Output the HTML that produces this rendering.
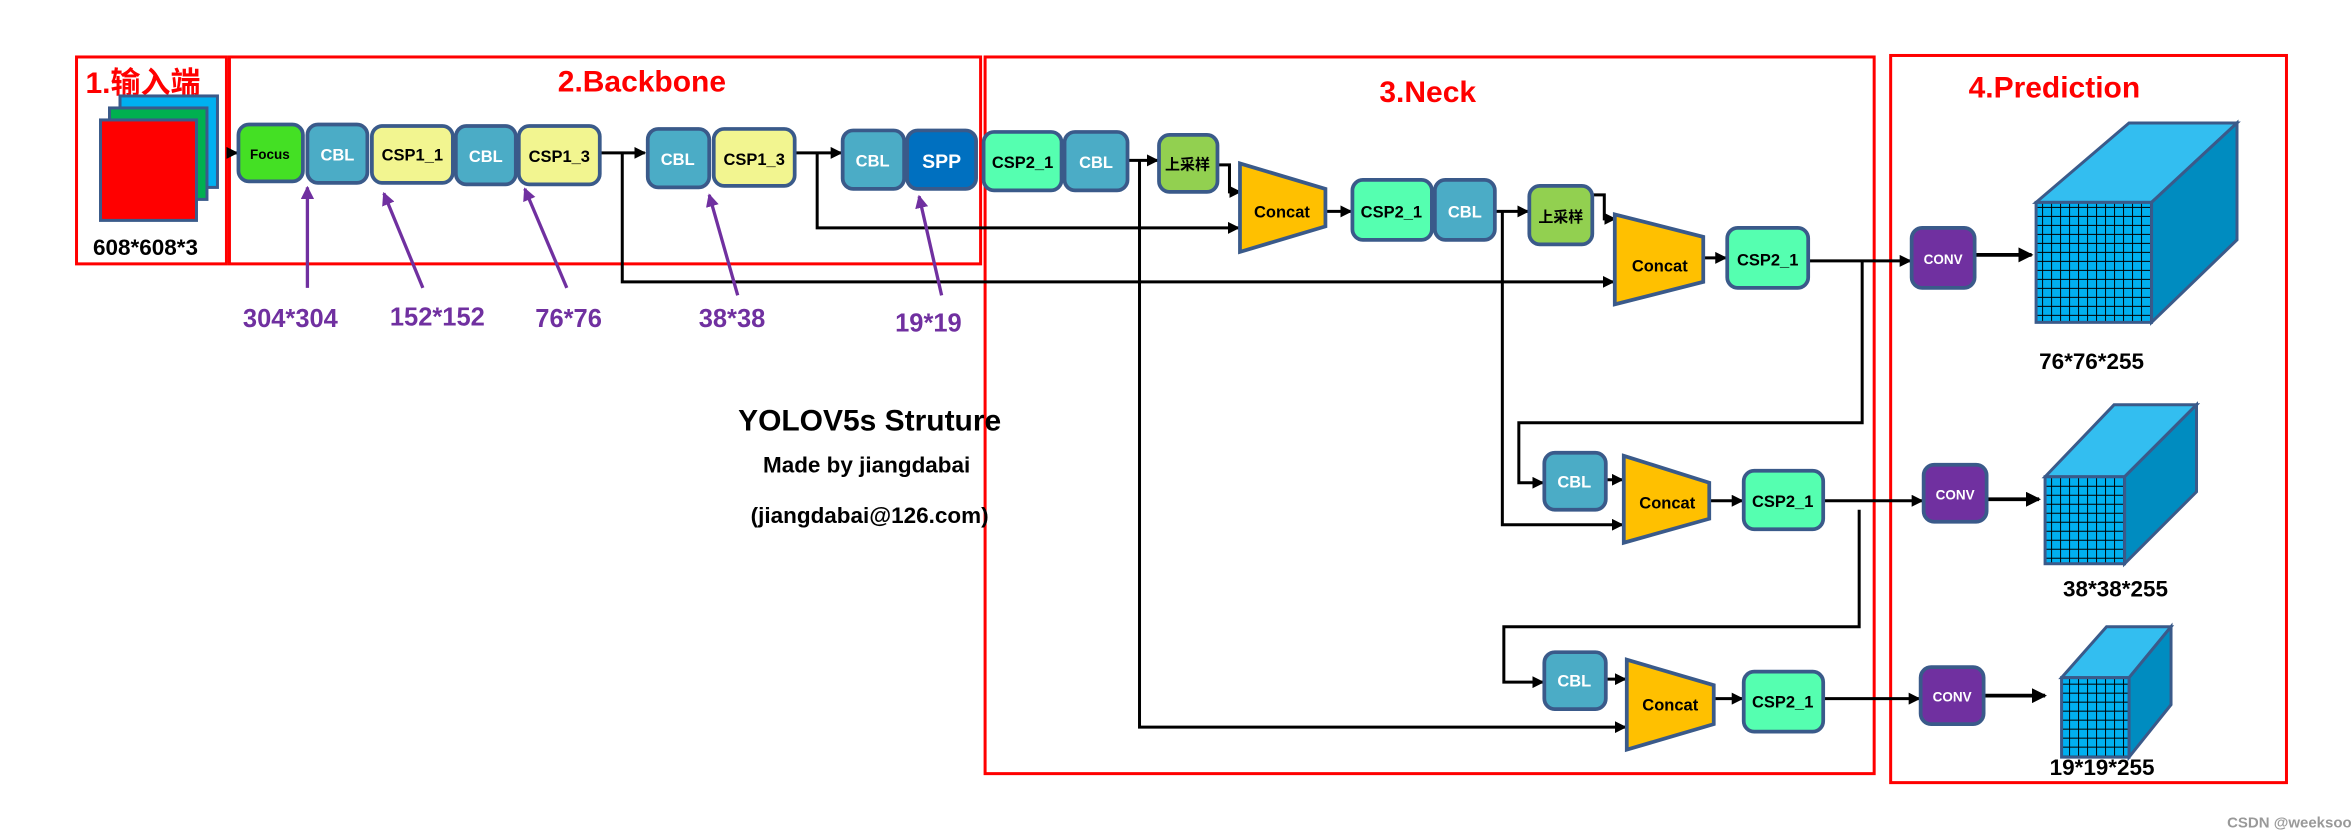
<!DOCTYPE html>
<html><head><meta charset="utf-8"><style>
html,body{margin:0;padding:0;background:#fff;width:2351px;height:836px;overflow:hidden}
svg{display:block}
text{font-family:"Liberation Sans","Noto Sans CJK SC",sans-serif;font-weight:bold}
</style></head><body>
<svg width="2351" height="836" viewBox="0 0 1568 557.6" xmlns="http://www.w3.org/2000/svg">
<defs>
<marker id="a" markerWidth="4" markerHeight="4" refX="3.5" refY="2" orient="auto" markerUnits="strokeWidth"><path d="M0,0 L4,2 L0,4 z" fill="#000"/></marker>
<marker id="p" markerWidth="4" markerHeight="4" refX="3.5" refY="2" orient="auto" markerUnits="strokeWidth"><path d="M0,0 L4,2 L0,4 z" fill="#7030a0"/></marker>
<pattern id="g" width="6" height="6" patternUnits="userSpaceOnUse"><rect width="6" height="6" fill="#00b0f0"/><path d="M0,0 H6 M0,0 V6" stroke="#000" stroke-width="1.3"/></pattern>
</defs>
<!-- section frames -->
<g fill="none" stroke="#f00" stroke-width="2">
<rect x="51" y="38" width="100" height="138"/>
<rect x="153" y="38" width="501" height="138"/>
<rect x="657" y="38" width="593" height="478"/>
<rect x="1261" y="37" width="264" height="485"/>
</g>
<g fill="#f00" font-size="20">
<text x="57" y="62">1.输入端</text>
<text x="372" y="61">2.Backbone</text>
<text x="920" y="68">3.Neck</text>
<text x="1313" y="65">4.Prediction</text>
</g>
<!-- input -->
<g stroke="#3a5a8a" stroke-width="2">
<rect x="80" y="64" width="65" height="61" fill="#00b0f0"/>
<rect x="73" y="72" width="65" height="61" fill="#00b050"/>
<rect x="67" y="80" width="64" height="67" fill="#f00"/>
</g>
<text x="62" y="170" font-size="15">608*608*3</text>
<!-- connectors -->
<g stroke="#000" stroke-width="2" fill="none">
<line x1="151" y1="102" x2="158" y2="102" marker-end="url(#a)"/>
<line x1="400" y1="102" x2="430" y2="102" marker-end="url(#a)"/>
<line x1="530" y1="102" x2="561" y2="102" marker-end="url(#a)"/>
<polyline points="415,102 415,188 1076,188" marker-end="url(#a)"/>
<polyline points="545,102 545,152 826,152" marker-end="url(#a)"/>
<line x1="752" y1="107" x2="772" y2="107" marker-end="url(#a)"/>
<polyline points="760,107 760,485 1084,485" marker-end="url(#a)"/>
<polyline points="812,110 820,110 820,128 827,128" marker-end="url(#a)"/>
<line x1="884" y1="141" x2="901" y2="141" marker-end="url(#a)"/>
<line x1="997" y1="141" x2="1019" y2="141" marker-end="url(#a)"/>
<polyline points="1002,141 1002,350 1082,350" marker-end="url(#a)"/>
<polyline points="1062,130 1070,130 1070,146 1077,146" marker-end="url(#a)"/>
<line x1="1136" y1="172" x2="1151" y2="172" marker-end="url(#a)"/>
<line x1="1206" y1="174" x2="1274" y2="174" marker-end="url(#a)"/>
<polyline points="1242,174 1242,282 1013,282 1013,322 1029,322" marker-end="url(#a)"/>
<line x1="1071" y1="320" x2="1082" y2="320" marker-end="url(#a)"/>
<line x1="1140" y1="334" x2="1162" y2="334" marker-end="url(#a)"/>
<line x1="1216" y1="334" x2="1282" y2="334" marker-end="url(#a)"/>
<polyline points="1240,340 1240,418 1003,418 1003,455 1029,455" marker-end="url(#a)"/>
<line x1="1071" y1="453" x2="1084" y2="453" marker-end="url(#a)"/>
<line x1="1143" y1="466" x2="1162" y2="466" marker-end="url(#a)"/>
<line x1="1216" y1="466" x2="1280" y2="466" marker-end="url(#a)"/>
<line x1="1317" y1="170" x2="1355" y2="170" marker-end="url(#a)" stroke-width="2.5"/>
<line x1="1325" y1="333" x2="1360" y2="333" marker-end="url(#a)" stroke-width="2.5"/>
<line x1="1323" y1="464" x2="1364" y2="464" marker-end="url(#a)" stroke-width="2.5"/>
</g>
<!-- purple arrows -->
<g stroke="#7030a0" stroke-width="2.2">
<line x1="205" y1="192" x2="205" y2="125" marker-end="url(#p)"/>
<line x1="282" y1="192" x2="256" y2="129" marker-end="url(#p)"/>
<line x1="378" y1="192" x2="350" y2="126" marker-end="url(#p)"/>
<line x1="492" y1="197" x2="473" y2="130" marker-end="url(#p)"/>
<line x1="628" y1="197" x2="613" y2="131" marker-end="url(#p)"/>
</g>
<g fill="#7030a0" font-size="17">
<text x="162" y="218">304*304</text>
<text x="260" y="217">152*152</text>
<text x="357" y="218">76*76</text>
<text x="466" y="218">38*38</text>
<text x="597" y="221">19*19</text>
</g>
<!-- blocks -->
<g stroke="#3a5a8a" stroke-width="2.5">
<rect x="159" y="83" width="43" height="38" rx="7" fill="#44e024"/>
<rect x="205" y="83" width="40" height="39" rx="7" fill="#4bacc6"/>
<rect x="248" y="84" width="54" height="38" rx="7" fill="#f2f590"/>
<rect x="304" y="84" width="40" height="39" rx="7" fill="#4bacc6"/>
<rect x="346" y="84" width="54" height="39" rx="7" fill="#f2f590"/>
<rect x="432" y="86" width="41" height="39" rx="7" fill="#4bacc6"/>
<rect x="476" y="86" width="54" height="38" rx="7" fill="#f2f590"/>
<rect x="562" y="87" width="41" height="39" rx="7" fill="#4bacc6"/>
<rect x="605" y="87" width="46" height="39" rx="7" fill="#0070c0"/>
<rect x="656" y="88" width="52" height="39" rx="7" fill="#55ffb0"/>
<rect x="710" y="88" width="42" height="39" rx="7" fill="#4bacc6"/>
<rect x="773" y="90" width="39" height="38" rx="7" fill="#92d050"/>
<rect x="902" y="120" width="53" height="40" rx="7" fill="#55ffb0"/>
<rect x="957" y="120" width="40" height="40" rx="7" fill="#4bacc6"/>
<rect x="1020" y="124" width="42" height="39" rx="7" fill="#92d050"/>
<rect x="1152" y="152" width="54" height="40" rx="7" fill="#55ffb0"/>
<rect x="1030" y="302" width="41" height="38" rx="7" fill="#4bacc6"/>
<rect x="1163" y="314" width="53" height="39" rx="7" fill="#55ffb0"/>
<rect x="1030" y="435" width="41" height="38" rx="7" fill="#4bacc6"/>
<rect x="1163" y="448" width="53" height="40" rx="7" fill="#55ffb0"/>
<rect x="1275" y="152" width="42" height="40" rx="7" fill="#7030a0"/>
<rect x="1283" y="310" width="42" height="38" rx="7" fill="#7030a0"/>
<rect x="1281" y="445" width="42" height="38" rx="7" fill="#7030a0"/>
<polygon points="827,109 884,126 884,151 827,168" fill="#ffc000"/>
<polygon points="1077,143 1136,158 1136,188 1077,203" fill="#ffc000"/>
<polygon points="1083,304 1140,322 1140,346 1083,362" fill="#ffc000"/>
<polygon points="1085,440 1143,457 1143,483 1085,500" fill="#ffc000"/>
</g>
<g font-size="11" text-anchor="middle">
<text x="180" y="106" font-size="9">Focus</text>
<text x="225" y="107" fill="#fff">CBL</text>
<text x="275" y="107">CSP1_1</text>
<text x="324" y="108" fill="#fff">CBL</text>
<text x="373" y="108">CSP1_3</text>
<text x="452" y="110" fill="#fff">CBL</text>
<text x="503" y="110">CSP1_3</text>
<text x="582" y="111" fill="#fff">CBL</text>
<text x="628" y="112" fill="#fff" font-size="13">SPP</text>
<text x="682" y="112">CSP2_1</text>
<text x="731" y="112" fill="#fff">CBL</text>
<text x="792" y="113" font-size="10">上采样</text>
<text x="855" y="145">Concat</text>
<text x="928" y="145">CSP2_1</text>
<text x="977" y="145" fill="#fff">CBL</text>
<text x="1041" y="148" font-size="10">上采样</text>
<text x="1107" y="181">Concat</text>
<text x="1179" y="177">CSP2_1</text>
<text x="1050" y="325" fill="#fff">CBL</text>
<text x="1112" y="339">Concat</text>
<text x="1189" y="338">CSP2_1</text>
<text x="1050" y="458" fill="#fff">CBL</text>
<text x="1114" y="474">Concat</text>
<text x="1189" y="472">CSP2_1</text>
<text x="1296" y="176" fill="#fff" font-size="9">CONV</text>
<text x="1304" y="333" fill="#fff" font-size="9">CONV</text>
<text x="1302" y="468" fill="#fff" font-size="9">CONV</text>
</g>
<!-- cubes -->
<g stroke="#3a5a8a" stroke-width="2">
<polygon points="1358,135 1420,82 1492,82 1435,135" fill="#33bef0"/>
<polygon points="1435,135 1492,82 1492,160 1435,215" fill="#008cc0"/>
<rect x="1358" y="135" width="77" height="80" fill="url(#g)"/>
<polygon points="1364,318 1410,270 1465,270 1417,318" fill="#33bef0"/>
<polygon points="1417,318 1465,270 1465,328 1417,376" fill="#008cc0"/>
<rect x="1364" y="318" width="53" height="58" fill="url(#g)"/>
<polygon points="1375,452 1405,418 1448,418 1420,452" fill="#33bef0"/>
<polygon points="1420,452 1448,418 1448,470 1420,505" fill="#008cc0"/>
<rect x="1375" y="452" width="45" height="53" fill="url(#g)"/>
</g>
<g font-size="15">
<text x="1360" y="246">76*76*255</text>
<text x="1376" y="398">38*38*255</text>
<text x="1367" y="517">19*19*255</text>
</g>
<!-- center text -->
<g text-anchor="middle">
<text x="580" y="287" font-size="20">YOLOV5s Struture</text>
<text x="578" y="315" font-size="15" font-weight="normal">Made by jiangdabai</text>
<text x="580" y="349" font-size="15" font-weight="normal">(jiangdabai@126.com)</text>
</g>
<text x="1530" y="552" font-size="10" fill="#999" font-weight="normal" text-anchor="middle">CSDN @weeksooo</text>
</svg>
</body></html>
